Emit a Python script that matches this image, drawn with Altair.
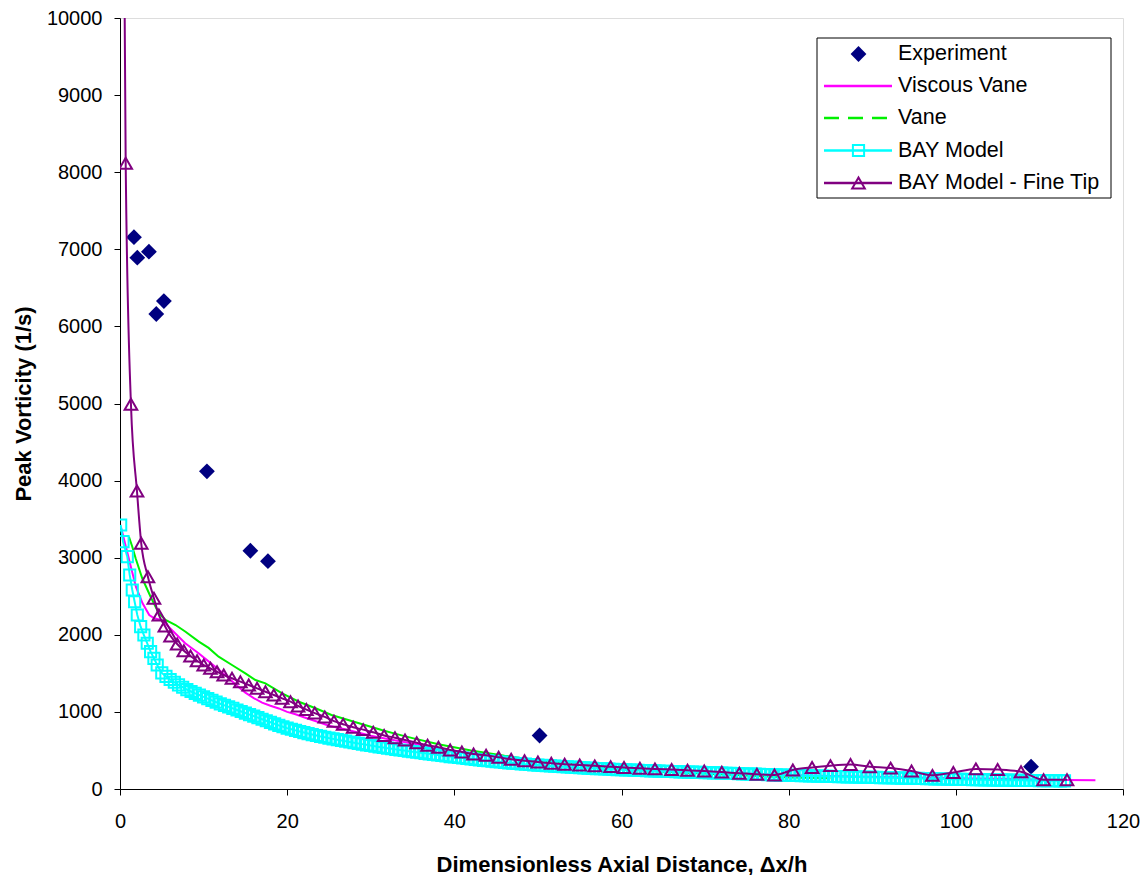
import altair as alt
import pandas as pd

# ---------------- data ----------------
exp_x = [1.67, 2.07, 3.46, 4.34, 5.25, 10.4, 15.6, 17.7, 50.2, 109.0]
exp_y = [7157, 6891, 6969, 6161, 6329, 4120, 3090, 2955, 694, 290]

vv_x = [0.1, 0.3, 0.8, 1.3, 1.9, 2.7, 3.5, 4.1, 5.0, 6.2, 7.8, 9.4, 11.0, 12.0, 13.0,
        14.0, 15.0, 16.0, 17.0, 18.0, 19.0, 20.0, 21.0, 22.0, 23.0, 24.0, 25.0, 26.5,
        28.0, 30.0, 32.5, 35.0, 37.5, 40.0, 42.5, 45.0, 47.5, 50.0, 55.0, 60.0, 65.0,
        70.0, 75.0, 80.0, 85.0, 90.0, 95.0, 100.0, 105.0, 110.0, 113.0, 116.7]
vv_y = [3400, 3316, 3100, 2883, 2624, 2408, 2257, 2214, 2190, 2062, 1890, 1760, 1620,
        1530, 1440, 1340, 1250, 1180, 1120, 1080, 1045, 1000, 970, 930, 895, 860, 820,
        785, 745, 690, 640, 590, 540, 495, 460, 425, 395, 365, 315, 275, 245, 220, 200,
        180, 168, 158, 148, 140, 132, 122, 118, 115]

vane_x = [1.07, 1.47, 1.87, 2.66, 3.66, 4.65, 5.45, 6.65, 7.84, 9.43, 10.6, 11.8, 13.4,
          15.0, 16.2, 17.4, 19.4, 21.4, 23.4, 25.3, 27.3, 29.3, 31.3, 33.0, 35.0, 38.1,
          42.0, 46.0, 50.0, 55.0, 60.0, 65.0, 70.0, 75.0, 80.0, 85.0]
vane_y = [3272, 3143, 2992, 2733, 2494, 2279, 2192, 2127, 2040, 1911, 1830, 1716, 1608,
          1500, 1414, 1371, 1241, 1132, 1047, 960, 895, 830, 765, 715, 660, 580, 500,
          430, 370, 310, 260, 225, 200, 175, 150, 140]

bay_x = [0.08, 0.36, 0.87, 1.16, 1.47, 1.75, 2.07, 2.47, 2.86, 3.26, 3.66, 4.06, 4.45,
         5.0, 5.5, 6.0, 6.5, 7.0, 7.5, 8.0, 8.5, 9.0, 9.5, 10.0, 10.5, 11.0, 11.5, 12.0,
         12.5, 13.0, 13.5, 14.0, 14.5, 15.0, 15.5, 16.0, 16.5, 17.0, 17.5, 18.0, 18.5,
         19.0, 19.5, 20.0, 20.5, 21.0, 21.5, 22.0, 22.5, 23.0, 23.5, 24.0, 24.5, 25.0,
         25.5, 26.0, 26.5, 27.0, 27.5, 28.0, 28.5, 29.0, 29.5, 30.0, 30.5, 31.0, 31.5,
         32.0, 32.5, 33.0, 33.5, 34.0, 34.5, 35.0, 35.5, 36.0, 36.5, 37.0, 37.5, 38.0,
         38.5, 39.0, 39.5, 40.0, 40.5, 41.0, 41.5, 42.0, 42.5, 43.0, 43.5, 44.0, 44.5,
         45.0, 45.5, 46.0, 46.5, 47.0, 47.5, 48.0, 48.5, 49.0, 49.5, 50.0, 50.5, 51.0,
         51.5, 52.0, 52.5, 53.0, 53.5, 54.0, 54.5, 55.0, 55.5, 56.0, 56.5, 57.0, 57.5,
         58.0, 58.5, 59.0, 59.5, 60.0, 60.5, 61.0, 61.5, 62.0, 62.5, 63.0, 63.5, 64.0,
         64.5, 65.0, 65.5, 66.0, 66.5, 67.0, 67.5, 68.0, 68.5, 69.0, 69.5, 70.0, 70.5,
         71.0, 71.5, 72.0, 72.5, 73.0, 73.5, 74.0, 74.5, 75.0, 75.5, 76.0, 76.5, 77.0,
         77.5, 78.0, 78.5, 79.0, 79.5, 80.0, 80.5, 81.0, 81.5, 82.0, 82.5, 83.0, 83.5,
         84.0, 84.5, 85.0, 85.5, 86.0, 86.5, 87.0, 87.5, 88.0, 88.5, 89.0, 89.5, 90.0,
         90.5, 91.0, 91.5, 92.0, 92.5, 93.0, 93.5, 94.0, 94.5, 95.0, 95.5, 96.0, 96.5,
         97.0, 97.5, 98.0, 98.5, 99.0, 99.5, 100.0, 100.5, 101.0, 101.5, 102.0, 102.5,
         103.0, 103.5, 104.0, 104.5, 105.0, 105.5, 106.0, 106.5, 107.0, 107.5, 108.0,
         108.5, 109.0, 109.5, 110.0, 110.5, 111.0, 111.5, 112.0, 112.5, 113.0]
bay_y = [3424, 3208, 3013, 2776, 2581, 2429, 2257, 2105, 1997, 1890, 1781, 1695, 1608,
         1505, 1460, 1420, 1385, 1350, 1320, 1290, 1265, 1240, 1217, 1195, 1172, 1150,
         1127, 1105, 1085, 1065, 1045, 1025, 1005, 985, 965, 945, 925, 905, 885, 865,
         845, 825, 807, 790, 775, 760, 746, 732, 719, 706, 694, 682, 671, 660, 650, 640,
         630, 620, 610, 600, 591, 582, 573, 564, 555, 546, 538, 530, 522, 514, 506, 499,
         491, 484, 477, 470, 463, 456, 449, 442, 435, 428, 421, 415, 409, 403, 396, 390,
         384, 378, 372, 366, 360, 355, 350, 345, 340, 336, 331, 327, 322, 318, 314, 310,
         306, 303, 299, 296, 293, 289, 286, 283, 280, 277, 274, 271, 268, 265, 263, 260,
         257, 255, 252, 250, 248, 246, 244, 242, 240, 238, 236, 234, 232, 230, 229, 227,
         225, 223, 222, 220, 218, 216, 215, 213, 211, 209, 208, 206, 204, 202, 201, 199,
         197, 195, 194, 192, 190, 188, 187, 185, 183, 181, 180, 178, 176, 175, 173, 172,
         170, 169, 167, 166, 165, 163, 162, 161, 160, 158, 157, 156, 155, 153, 152, 151,
         150, 148, 147, 146, 145, 143, 142, 141, 140, 138, 137, 136, 135, 133, 132, 131,
         130, 128, 127, 126, 125, 124, 123, 122, 121, 120, 119, 118, 117, 116, 116, 115,
         114, 113, 113, 112, 111, 110, 110, 109, 108, 108, 107, 107, 106, 106]

fine_x = [0.5, 0.68, 1.31, 2.03, 2.54, 3.34, 4.06, 4.65, 5.37, 6.05, 6.84, 7.64, 8.44,
          9.22, 10.02, 10.82, 11.61, 12.41, 13.4, 14.4, 15.4, 16.4, 17.4, 18.4, 19.4,
          20.4, 21.3, 22.3, 23.3, 24.5, 25.6, 26.7, 27.9, 29.1, 30.3, 31.6, 32.9, 34.1,
          35.5, 36.8, 38.1, 39.5, 40.9, 42.3, 43.8, 45.3, 46.8, 48.4, 50.0, 51.6, 53.2,
          55.0, 56.8, 58.7, 60.3, 62.2, 64.0, 66.0, 67.9, 69.9, 72.0, 74.1, 76.2, 78.3,
          80.5, 82.8, 85.0, 87.4, 89.7, 92.2, 94.7, 97.2, 99.7, 102.4, 105.0, 107.8,
          110.5, 113.3]
fine_y = [11000, 8115, 4990, 3865, 3187, 2754, 2473, 2257, 2114, 1984, 1881, 1794, 1725,
          1664, 1608, 1565, 1521, 1479, 1436, 1392, 1349, 1306, 1262, 1219, 1176, 1132,
          1077, 1030, 985, 935, 880, 840, 800, 770, 735, 695, 665, 636, 601, 567, 541,
          506, 480, 454, 437, 411, 385, 367, 350, 333, 320, 310, 300, 290, 280, 270, 261,
          252, 243, 233, 219, 205, 191, 182, 247, 280, 303, 317, 289, 271, 233, 177, 215,
          261, 252, 224, 121, 121]

legend_labels = ["Experiment", "Viscous Vane", "Vane", "BAY Model", "BAY Model - Fine Tip"]

# ---------------- styling ----------------
FONT = "Liberation Sans"
NAVY, MAGENTA, GREEN, CYAN, PURPLE = "#000080", "#FF00FF", "#00F000", "#00FFFF", "#800080"

W, H = 1003, 771
DIA, SQ, TRI = 250, 125, 160

xscale = alt.Scale(domain=[0, 120], nice=False, zero=False)
yscale = alt.Scale(domain=[0, 10000], nice=False, zero=False)

xaxis = alt.Axis(values=[0, 20, 40, 60, 80, 100, 120], title="Dimensionless Axial Distance, Δx/h",
                 titleFontSize=22, titleFontWeight="bold", titleFont=FONT, titleColor="black",
                 titleX=W / 2, titleY=82, titleBaseline="alphabetic",
                 labelFontSize=20, labelFont=FONT, labelColor="black", labelPadding=16,
                 tickSize=6, tickColor="black", domainColor="black", grid=False, labelFlush=False)
yaxis = alt.Axis(values=list(range(0, 10001, 1000)), title="Peak Vorticity (1/s)",
                 titleFontSize=22, titleFontWeight="bold", titleFont=FONT, titleColor="black",
                 titleX=-90, titleY=H / 2, titleAngle=270, titleBaseline="alphabetic",
                 labelFontSize=20, labelFont=FONT, labelColor="black", labelPadding=12,
                 tickSize=6, tickColor="black", domainColor="black", grid=False, format="d")


def enc(chart):
    return chart.encode(
        x=alt.X("x:Q", scale=xscale, axis=xaxis),
        y=alt.Y("y:Q", scale=yscale, axis=yaxis),
    )


df_exp = pd.DataFrame({"x": exp_x, "y": exp_y})
df_vv = pd.DataFrame({"x": vv_x, "y": vv_y})
df_vane = pd.DataFrame({"x": vane_x, "y": vane_y})
df_bay = pd.DataFrame({"x": bay_x, "y": bay_y})
df_fine = pd.DataFrame({"x": fine_x, "y": fine_y})

exp_pts = enc(alt.Chart(df_exp).mark_point(shape="diamond", filled=True, size=DIA,
                                            color=NAVY, opacity=1, strokeWidth=0))
vv_line = enc(alt.Chart(df_vv).mark_line(color=MAGENTA, strokeWidth=2, clip=True))
vane_line = enc(alt.Chart(df_vane).mark_line(color=GREEN, strokeWidth=2, clip=True))
bay_line = enc(alt.Chart(df_bay).mark_line(color=CYAN, strokeWidth=2, clip=True))
bay_pts = enc(alt.Chart(df_bay).mark_point(shape="square", filled=False, size=SQ,
                                            color=CYAN, opacity=1, strokeWidth=2, clip=True))
fine_line = enc(alt.Chart(df_fine).mark_line(color=PURPLE, strokeWidth=2, clip=True,
                                              interpolate="monotone"))
fine_pts = enc(alt.Chart(df_fine).mark_point(shape="triangle-up", filled=False, size=TRI,
                                              color=PURPLE, opacity=1, strokeWidth=2, clip=True))

# ---------------- legend (drawn like the Excel box) ----------------
one = pd.DataFrame({"k": [0]})
lx0, lx1, ly0, ly1 = 697, 991, 20, 180
rows = [36, 68, 100, 132.5, 165]
seg0, seg1, mx, tx = 704, 772, 738.5, 778

legend_layers = [
    alt.Chart(one).mark_rect(fill="white", stroke="black", strokeWidth=1).encode(
        x=alt.value(lx0), x2=alt.value(lx1), y=alt.value(ly0), y2=alt.value(ly1))
]
line_specs = [None, (MAGENTA, None), (GREEN, [15, 9]), (CYAN, None), (PURPLE, None)]
marker_specs = [("diamond", NAVY, True, DIA), None, None,
                ("square", CYAN, False, SQ), ("triangle-up", PURPLE, False, TRI)]
for i, lab in enumerate(legend_labels):
    ry = rows[i]
    ls = line_specs[i]
    if ls is not None:
        kw = dict(color=ls[0], strokeWidth=2.5)
        if ls[1] is not None:
            kw["strokeDash"] = ls[1]
        legend_layers.append(alt.Chart(one).mark_rule(**kw).encode(
            x=alt.value(seg0), x2=alt.value(seg1), y=alt.value(ry)))
    ms = marker_specs[i]
    if ms is not None:
        shape, col, filled, size = ms
        legend_layers.append(alt.Chart(one).mark_point(
            shape=shape, color=col, filled=filled, size=size, opacity=1,
            strokeWidth=0 if filled else 2).encode(x=alt.value(mx), y=alt.value(ry)))
    legend_layers.append(alt.Chart(one).mark_text(
        align="left", baseline="middle", fontSize=21.5, font=FONT, color="black", text=lab
    ).encode(x=alt.value(tx), y=alt.value(ry)))

chart = alt.layer(
    exp_pts, vv_line, vane_line, bay_line, bay_pts, fine_line, fine_pts, *legend_layers
).properties(
    width=W, height=H,
    autosize=alt.AutoSizeParams(type="none"),
    padding={"left": 112, "top": 10, "right": 17, "bottom": 86},
).configure_view(
    stroke="#808080", strokeWidth=1, fill="white"
).configure(
    font=FONT, background="white"
)

chart.save("out.html", embed_options={"renderer": "svg", "actions": False})
